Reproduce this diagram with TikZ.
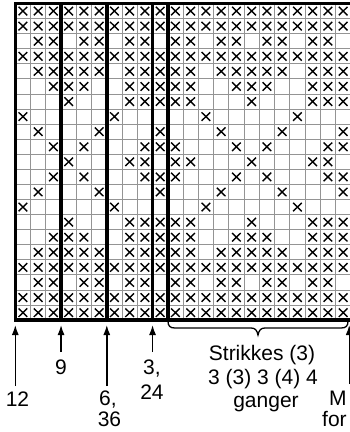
\documentclass[tikz,border=0pt]{standalone}
\usepackage{fontspec}
\setmainfont{Liberation Sans}
\usetikzlibrary{arrows.meta}
\newcommand\xo{15.3}
\newcommand\yo{3.5}
\newcommand\cw{15.25}
\newcommand\ch{15.08}
\newcommand\mg{3.3}
\newcommand\stx[2]{%
  \draw[xmark] ({\xo+(#2-1)*\cw+\mg},{\yo+(#1-1)*\ch+\mg}) -- ++({\cw-2*\mg},{\ch-2*\mg})
               ({\xo+(#2)*\cw-\mg},{\yo+(#1-1)*\ch+\mg}) -- ++({-\cw+2*\mg},{\ch-2*\mg});}
\begin{document}
\begin{tikzpicture}[x=1pt,y=-1pt,
  gridline/.style={draw=black!42,line width=0.9pt},
  heavy/.style={draw=black,line width=3.5pt,line cap=rect},
  xmark/.style={draw=black,line width=1.4pt},
  uparrow/.style={draw=black,line width=1.4pt,-{Latex[length=10pt,width=7pt]}},
  lbl/.style={font=\fontsize{21}{24}\selectfont,inner sep=0pt,anchor=base},
  bracestyle/.style={draw=black,line width=1.3pt}]
\useasboundingbox (0,0) rectangle (350,432);
% thin grid
\foreach \i in {0,...,22} \draw[gridline] ({\xo+\i*\cw},\yo) -- ++(0,{21*\ch});
\foreach \j in {0,...,21} \draw[gridline] (\xo,{\yo+\j*\ch}) -- ++({22*\cw},0);
% stitches (rows 12-21 mirror rows 10-1)
\foreach \r/\cl in {1/{1,...,22},2/{1,...,22},
  3/{2,3,5,6,8,9,11,12,14,15,17,18,20,21},
  4/{1,...,22},
  5/{2,3,4,5,6,8,9,10,11,12,14,15,16,17,18,20,21,22},
  6/{3,4,5,8,9,10,11,12,15,16,17,20,21,22},
  7/{4,8,9,10,11,12,16,20,21,22},
  8/{1,7,13,19},
  9/{2,6,10,14,18,22},
  10/{3,5,9,10,11,15,17,21,22},
  11/{4,8,9,11,12,16,20,21}}{%
  \foreach \c in \cl {%
    \stx{\r}{\c}
    \ifnum\r<11 \stx{22-\r}{\c}\fi
  }%
}
% heavy lines
\foreach \i in {0,3,6,9,10} \draw[heavy] ({\xo+\i*\cw},\yo) -- ++(0,{21*\ch});
\draw[heavy] (\xo,\yo) -- ++({22*\cw},0);
\draw[heavy] (\xo,{\yo+21*\ch}) -- ++({22*\cw},0);
% arrow coordinates
\coordinate (tip0) at ({\xo},325);
\coordinate (tip3) at ({\xo+3*\cw},325);
\coordinate (tip6) at ({\xo+6*\cw},325);
\coordinate (tip9) at ({\xo+9*\cw},325);
\coordinate (tipR) at (349.2,325);
\coordinate (tail0) at ({\xo},386);
\coordinate (tail3) at ({\xo+3*\cw},352);
\coordinate (tail6) at ({\xo+6*\cw},386);
\coordinate (tail9) at ({\xo+9*\cw},352);
\coordinate (tailR) at (349.2,384);
\draw[uparrow] (tail0) -- (tip0);
\draw[uparrow] (tail3) -- (tip3);
\draw[uparrow] (tail6) -- (tip6);
\draw[uparrow] (tail9) -- (tip9);
\draw[uparrow] (tailR) -- (tipR);
% brace
\coordinate (bl) at (168,321);
\coordinate (br) at (348,321);
\coordinate (bt) at (258,335);
\draw[bracestyle] (bl) .. controls (168,326) and (170,328) .. (175,328) -- (251,328)
  .. controls (255,328) and (257,330) .. (bt)
  .. controls (259,330) and (261,328) .. (265,328) -- (341,328)
  .. controls (346,328) and (348,326) .. (br);
% labels
\node[lbl] (n12) at (17.5,406) {12};
\node[lbl] (n9) at (61,374) {9};
\node[lbl] (n6a) at (108,405) {6,};
\node[lbl] (n6b) at (109.5,426.5) {36};
\node[lbl] (n3a) at (152,374) {3,};
\node[lbl] (n3b) at (152,399) {24};
\node[lbl] (s1) at (262,360) {Strikkes (3)};
\node[lbl] (s2) at (263,384) {3 (3) 3 (4) 4};
\node[lbl] (s3) at (266,407) {ganger};
\node[lbl,anchor=base west] (m1) at (329,405) {M};
\node[lbl,anchor=base west] (m2) at (322,426.5) {for};
\end{tikzpicture}
\end{document}
